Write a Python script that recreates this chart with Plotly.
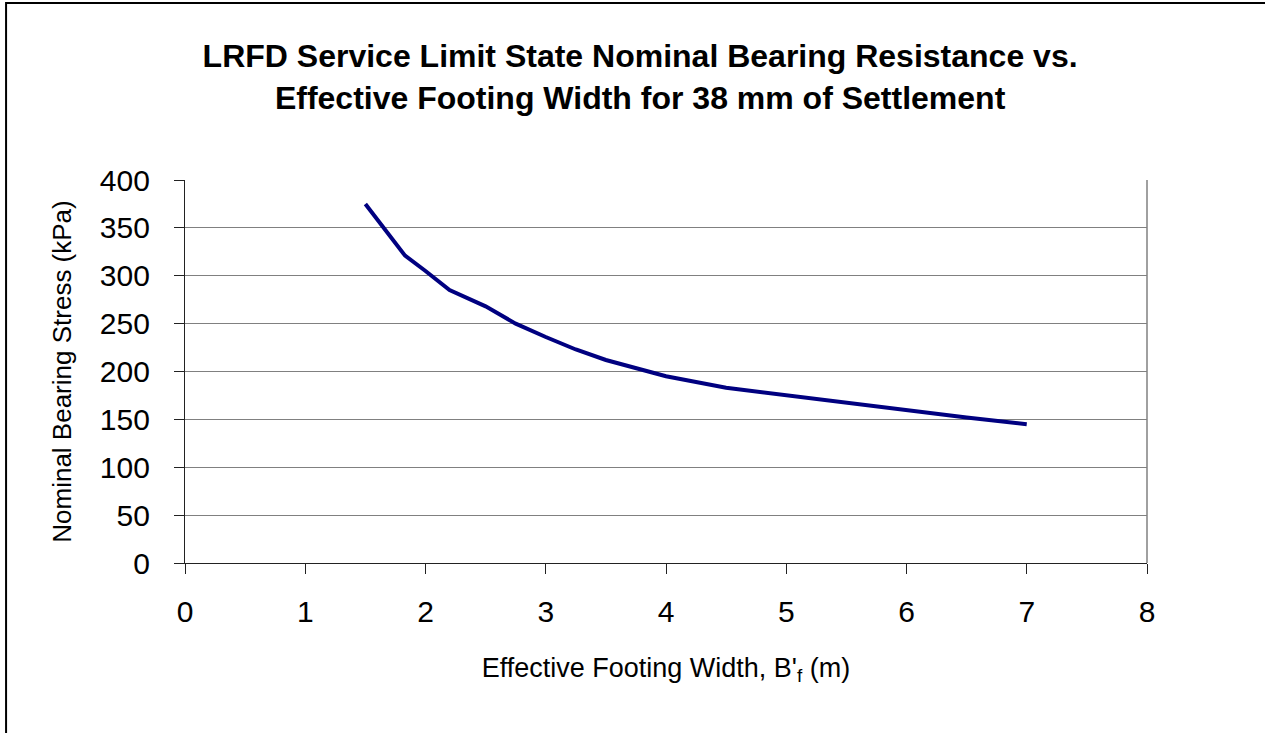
import plotly.graph_objects as go

width_m = [1.5, 1.83, 2.0, 2.2, 2.5, 2.75, 3.0, 3.25, 3.5, 4.0, 4.5, 5.0, 5.5, 6.0, 6.5, 7.0]
stress_kpa = [375, 321, 305, 285, 268, 250, 236, 223, 212, 195, 183, 175, 167, 160, 152, 145]

x_ticks = [0, 1, 2, 3, 4, 5, 6, 7, 8]
y_ticks = [0, 50, 100, 150, 200, 250, 300, 350, 400]

title_text = ("LRFD Service Limit State Nominal Bearing Resistance vs.<br>"
              "Effective Footing Width for 38 mm of Settlement")

fig = go.Figure()
fig.add_trace(go.Scatter(x=width_m, y=stress_kpa, mode="lines",
                         line=dict(color="#000080", width=4), showlegend=False))

font_family = "Liberation Sans, Arial, sans-serif"

fig.update_layout(
    width=1265, height=733,
    margin=dict(l=185, r=118, t=180, b=170),
    paper_bgcolor="white", plot_bgcolor="white",
    font=dict(family=font_family, color="black"),
    title=dict(text="<b>" + title_text + "</b>", x=0.506, xanchor="center",
               y=0.908, yanchor="middle",
               font=dict(size=32, family=font_family, color="black")),
    xaxis=dict(range=[0, 8], tickvals=x_ticks, showgrid=False, zeroline=False,
               showline=True, linecolor="#222222", linewidth=1.3, mirror=False,
               ticks="outside", ticklen=10, tickcolor="#222222", tickwidth=1.3,
               tickfont=dict(size=30), ticklabelstandoff=12,
               title=dict(text="Effective Footing Width, B'<sub>f</sub> (m)",
                          font=dict(size=27), standoff=30)),
    yaxis=dict(range=[0, 400], tickvals=y_ticks, showgrid=True, gridcolor="#808080",
               gridwidth=1.2, zeroline=False,
               showline=True, linecolor="#222222", linewidth=1.3,
               ticks="outside", ticklen=10, tickcolor="#222222", tickwidth=1.3,
               tickfont=dict(size=30), ticklabelstandoff=18,
               title=dict(text="Nominal Bearing Stress (kPa)",
                          font=dict(size=26), standoff=20)),
)

# right border of plot area (gray)
fig.add_shape(type="line", xref="paper", yref="paper", x0=1, x1=1, y0=0, y1=1,
              line=dict(color="#808080", width=1.5))
# outer chart frame
fig.add_shape(type="rect", xref="paper", yref="paper",
              x0=-0.186, x1=1.3, y0=-0.6, y1=1.462,
              line=dict(color="black", width=2), fillcolor="rgba(0,0,0,0)", layer="above")

fig.write_html("out.html", config={"displayModeBar": False})

with open("out.html", "r", encoding="utf-8") as f:
    html = f.read()
html = html.replace("<body>", '<body style="margin:0;overflow:hidden">', 1)
with open("out.html", "w", encoding="utf-8") as f:
    f.write(html)
